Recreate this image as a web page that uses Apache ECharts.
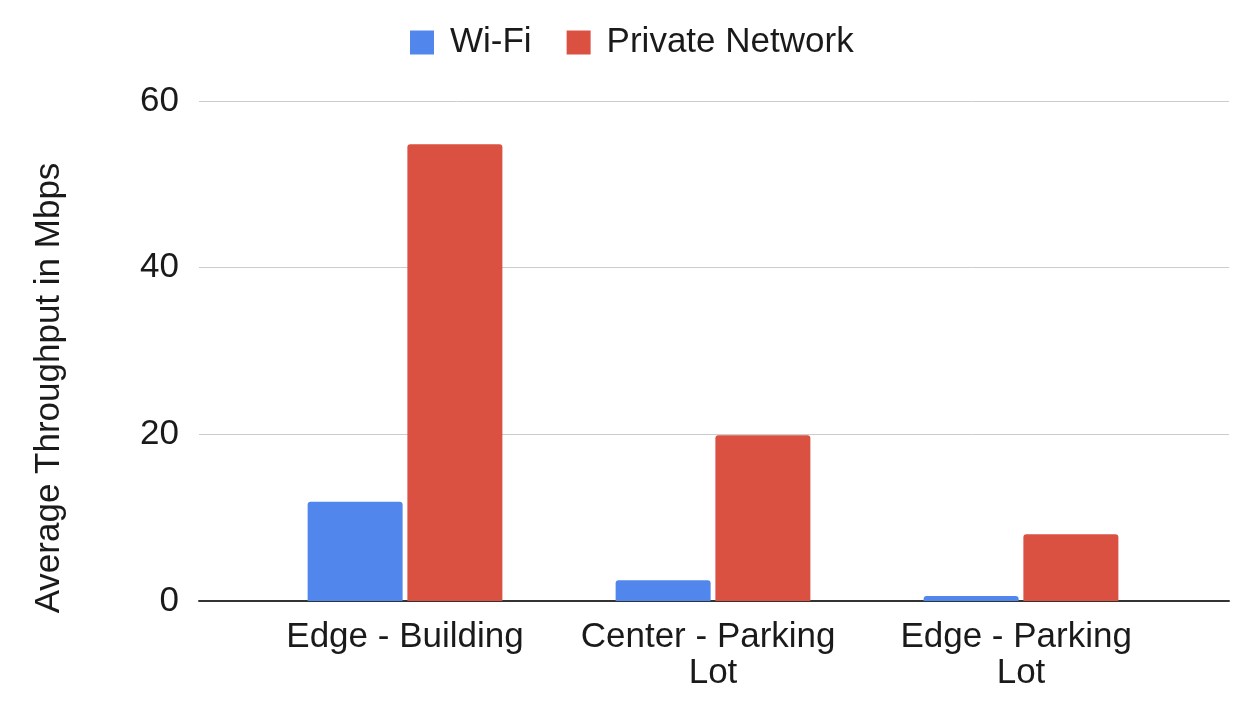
<!DOCTYPE html>
<html>
<head>
<meta charset="utf-8">
<title>Average Throughput</title>
<script src="https://cdn.jsdelivr.net/npm/echarts@6/dist/echarts.min.js"></script>
<style>
html, body { margin: 0; padding: 0; background: #fff; }
#chart { width: 1244px; height: 716px; }
</style>
</head>
<body>
<div id="chart"></div>
<script>
// data
var locations = ['Edge - Building', 'Center - Parking Lot', 'Edge - Parking Lot'];
var wifi = [11.9, 2.5, 0.6];
var privateNet = [54.8, 19.9, 8.0];
var seriesNames = ['Wi-Fi', 'Private Network'];
var yTicks = { min: 0, max: 60, interval: 20 };

var font = "'Liberation Sans', Arial, sans-serif";
var fs = 35;

var option = {
    animation: false,
    backgroundColor: '#fff',
    textStyle: { fontFamily: font },
    legend: {
        top: 20,
        left: 405,
        icon: 'rect',
        itemWidth: 24,
        itemHeight: 24,
        itemGap: 35,
        textStyle: { fontSize: fs, color: '#1a1a1a', fontFamily: font, padding: [0, 0, 0, 11] },
        data: seriesNames
    },
    // grid 0 : the long axis lines and gridlines, grid 1 : the bars
    grid: [
        { left: 199, right: 15, top: 101, bottom: 115 },
        { left: 251, right: 69, top: 101, bottom: 115 }
    ],
    xAxis: [
        {
            gridIndex: 0, type: 'category', data: [''],
            axisLine: { lineStyle: { color: '#333', width: 2 } },
            axisTick: { show: false }, axisLabel: { show: false }
        },
        {
            gridIndex: 1, type: 'category', data: locations,
            axisLine: { show: false }, axisTick: { show: false },
            axisLabel: {
                fontSize: fs, color: '#1a1a1a', fontFamily: font, margin: 18,
                lineHeight: 36, width: 266, overflow: 'break', interval: 0
            }
        }
    ],
    yAxis: [
        {
            gridIndex: 0, type: 'value',
            min: yTicks.min, max: yTicks.max, interval: yTicks.interval,
            axisLine: { show: false }, axisTick: { show: false },
            axisLabel: { fontSize: fs, color: '#1a1a1a', fontFamily: font, margin: 20 },
            splitLine: { lineStyle: { color: '#ccc', width: 1 } }
        },
        {
            gridIndex: 1, type: 'value',
            min: yTicks.min, max: yTicks.max, interval: yTicks.interval,
            show: false
        }
    ],
    graphic: [
        {
            type: 'text',
            x: 49, y: 388,
            rotation: Math.PI / 2,
            style: {
                text: 'Average Throughput in Mbps',
                font: fs + 'px ' + font,
                fill: '#1a1a1a',
                textAlign: 'center',
                textVerticalAlign: 'middle'
            }
        }
    ],
    series: [
        {
            name: seriesNames[0], type: 'bar', xAxisIndex: 1, yAxisIndex: 1,
            data: wifi, barWidth: 95, barGap: '5%',
            itemStyle: { color: '#5187EC', borderRadius: [3, 3, 0, 0] }
        },
        {
            name: seriesNames[1], type: 'bar', xAxisIndex: 1, yAxisIndex: 1,
            data: privateNet, barWidth: 95, barGap: '5%',
            itemStyle: { color: '#DA5142', borderRadius: [3, 3, 0, 0] }
        }
    ]
};

var myChart = echarts.init(document.getElementById('chart'));
myChart.setOption(option);
</script>
</body>
</html>
